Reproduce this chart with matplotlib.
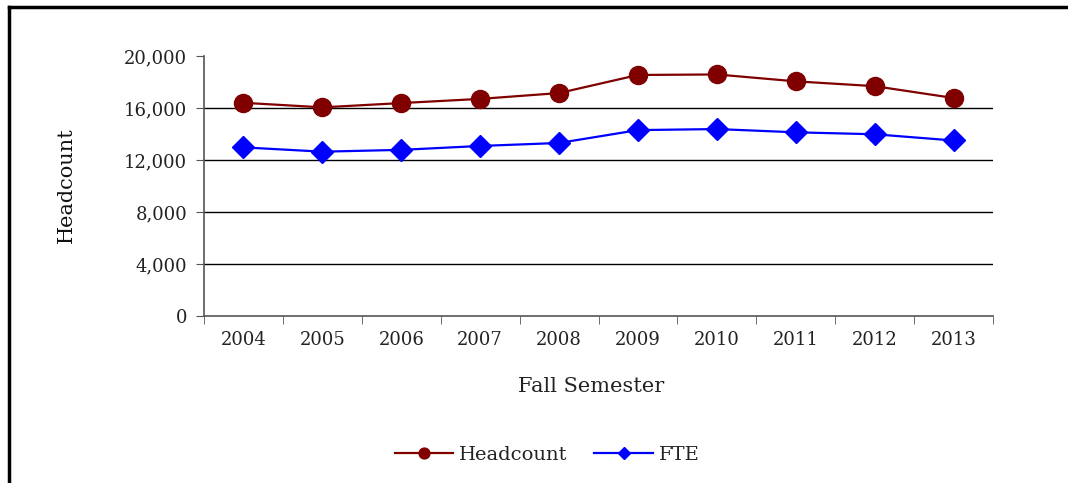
import matplotlib
matplotlib.use("Agg")
import matplotlib.pyplot as plt
from matplotlib.lines import Line2D
from matplotlib.ticker import FuncFormatter, FixedLocator

years = ["2004", "2005", "2006", "2007", "2008", "2009", "2010", "2011", "2012", "2013"]
headcount = [16400, 16050, 16380, 16700, 17150, 18540, 18580, 18050, 17680, 16770]
fte = [12970, 12640, 12780, 13080, 13310, 14300, 14380, 14130, 13980, 13500]
y_ticks = [0, 4000, 8000, 12000, 16000, 20000]

plt.rcParams['font.family'] = ['DejaVu Serif']

W, H = 1068, 483
fig = plt.figure(figsize=(W / 100, H / 100), dpi=100)
ax = fig.add_axes([204 / W, 1 - 316 / H, (993 - 204) / W, (316 - 56) / H])

x = list(range(len(years)))
ax.plot(x, headcount, color='#800000', lw=1.6, marker='o', markersize=13,
        label='Headcount', zorder=3)
ax.plot(x, fte, color='#0000FF', lw=1.6, marker='D', markersize=11,
        label='FTE', zorder=3)

ax.set_xlim(-0.5, len(years) - 0.5)
ax.set_ylim(0, 20000)
ax.set_yticks(y_ticks)
ax.yaxis.set_major_formatter(FuncFormatter(lambda v, p: f"{int(v):,}"))
for v in y_ticks[1:-1]:
    ax.axhline(v, color='black', lw=1.0, zorder=1)

ax.set_xticks(x)
ax.set_xticklabels(years)
ax.xaxis.set_minor_locator(FixedLocator([i - 0.5 for i in range(len(years) + 1)]))
ax.tick_params(axis='x', which='major', length=0, pad=11, labelsize=13, labelcolor='#222222')
ax.tick_params(axis='x', which='minor', length=6, direction='out', color='#555555')
ax.tick_params(axis='y', length=6, direction='out', color='#555555', labelsize=13, pad=6,
               labelcolor='#222222')

for s in ['top', 'right']:
    ax.spines[s].set_visible(False)
for s in ['left', 'bottom']:
    ax.spines[s].set_color('#555555')
    ax.spines[s].set_linewidth(1.2)

fig.text(66 / W, 1 - 185 / H, 'Headcount', rotation=90, ha='center', va='center',
         fontsize=15, color='#111111')
fig.text(591 / W, 1 - 386 / H, 'Fall Semester', ha='center', va='center', fontsize=15,
         color='#222222')

leg = fig.legend(loc='center', bbox_to_anchor=(547 / W, 1 - 455 / H), ncol=2, frameon=False,
                 fontsize=14, markerscale=0.6, handlelength=3.0, columnspacing=1.4,
                 handletextpad=0.3)
for t in leg.get_texts():
    t.set_color('#222222')

# outer border (box extends past the image on the right and bottom)
fig.add_artist(Line2D([9 / W, 9 / W], [0, 1 - 7 / H], transform=fig.transFigure,
                      color='black', lw=2.5))
fig.add_artist(Line2D([9 / W, 1.0], [1 - 7 / H, 1 - 7 / H], transform=fig.transFigure,
                      color='black', lw=2.5))

fig.savefig('out.png', dpi=100)
